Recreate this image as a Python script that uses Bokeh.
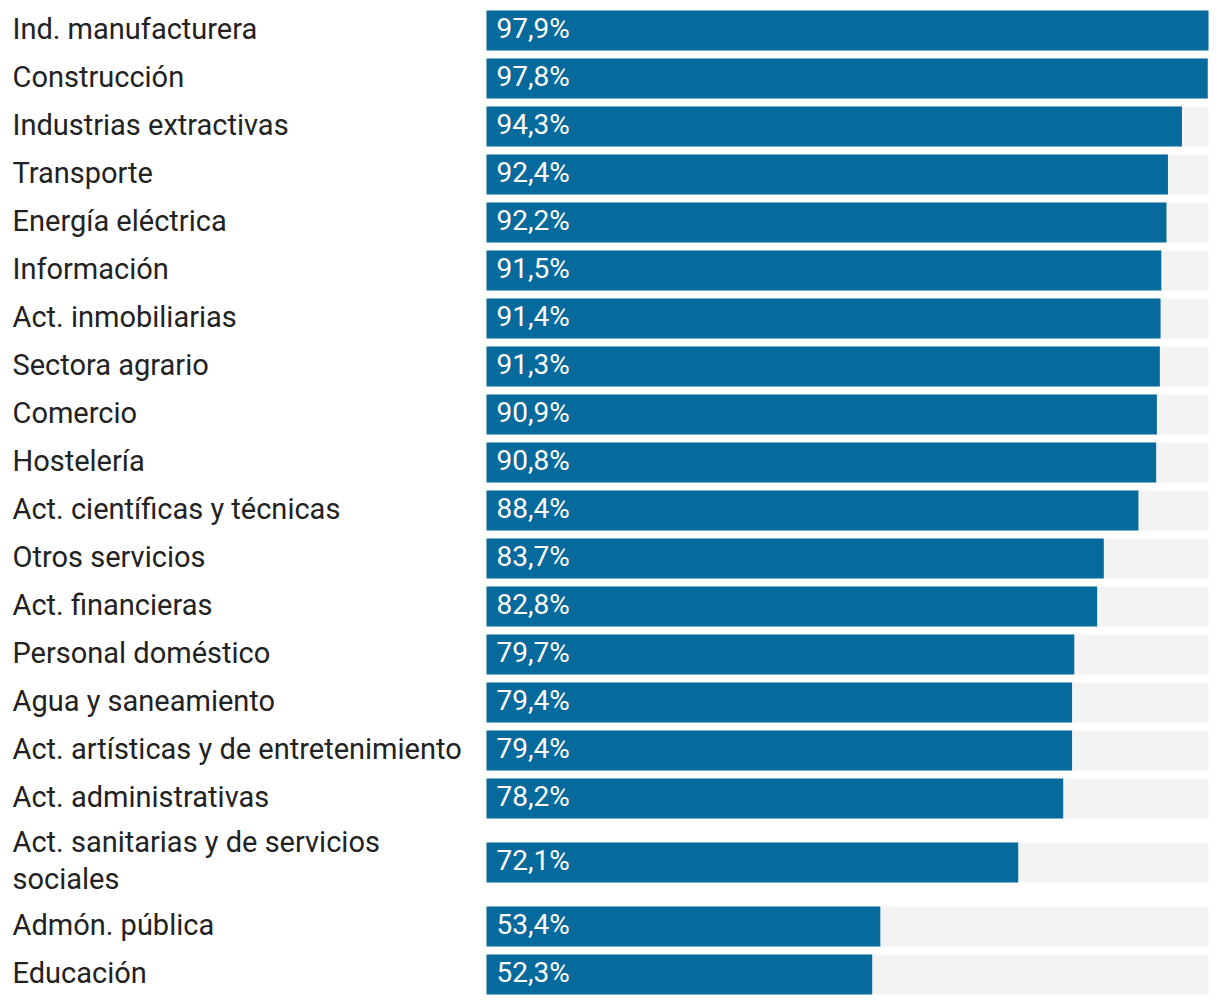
from bokeh.plotting import figure
from bokeh.models import ColumnDataSource, Range1d
from bokeh.embed import file_html
from bokeh.resources import INLINE
from bokeh.core.properties import value

categories = [
    "Ind. manufacturera", "Construcción", "Industrias extractivas", "Transporte",
    "Energía eléctrica", "Información", "Act. inmobiliarias", "Sectora agrario",
    "Comercio", "Hostelería", "Act. científicas y técnicas", "Otros servicios",
    "Act. financieras", "Personal doméstico", "Agua y saneamiento",
    "Act. artísticas y de entretenimiento", "Act. administrativas",
    "Act. sanitarias y de servicios\nsociales", "Admón. pública", "Educación",
]
values = [97.9, 97.8, 94.3, 92.4, 92.2, 91.5, 91.4, 91.3, 90.9, 90.8, 88.4,
          83.7, 82.8, 79.7, 79.4, 79.4, 78.2, 72.1, 53.4, 52.3]

W, H = 1216, 1000
bar_left, bar_right = 486, 1208
vmax = max(values)
k = (bar_right - bar_left) / vmax
x0 = -bar_left / k
x1 = x0 + W / k

# vertical layout (pixel units, top-down)
centers = []
y = 10
for c in categories:
    extra = 32 * c.count("\n")
    centers.append(y + extra / 2 + 20)
    y += 48 + extra

labels = [f"{v:.1f}".replace(".", ",") + "%" for v in values]
src = ColumnDataSource(dict(cat=categories, val=values, y=centers, lab=labels,
                            full=[vmax] * len(values), zero=[0] * len(values),
                            lx=[x0] * len(values)))

p = figure(width=W, height=H, output_backend="svg", toolbar_location=None,
           x_range=Range1d(x0, x1), y_range=Range1d(H, 0), min_border=0)
p.axis.visible = False
p.grid.visible = False
p.outline_line_color = None
p.background_fill_color = "white"

p.hbar(y="y", left="zero", right="full", height=40, source=src,
       fill_color="#f3f3f3", line_color=None)
p.hbar(y="y", left="zero", right="val", height=40, source=src,
       fill_color="#066a9c", line_color=None)

p.text(x="zero", y="y", text="lab", source=src, x_offset=10, y_offset=-2,
       text_font=value("Roboto"), text_font_size="28px", text_color="white",
       text_baseline="middle", text_align="left")
p.text(x="lx", y="y", text="cat", source=src, x_offset=12, y_offset=-2,
       text_font=value("Roboto"), text_font_size="29px", text_color="#222222",
       text_baseline="middle", text_align="left", text_line_height=1.07)

open("out.html", "w").write(file_html(p, INLINE))
